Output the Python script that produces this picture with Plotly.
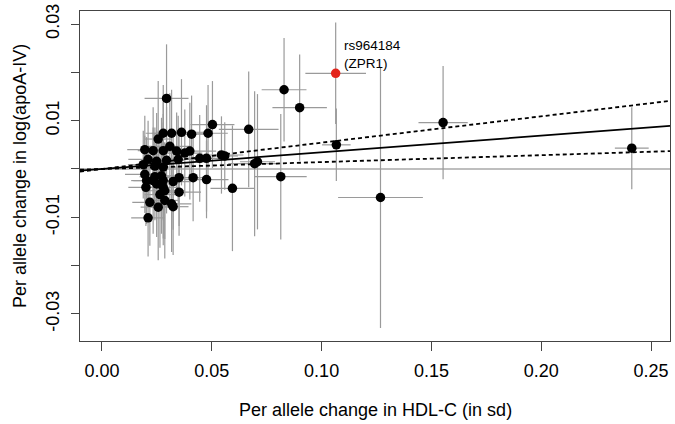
import plotly.graph_objects as go

# ---- data ----
snp_x = [0.1067, 0.0829, 0.0900, 0.0668, 0.0708, 0.0695, 0.0814, 0.0594, 0.1268, 0.1553, 0.2412,
         0.0503, 0.0294, 0.0279, 0.0317, 0.0362, 0.0408, 0.0483, 0.0256, 0.0195, 0.0233,
         0.0279, 0.0309, 0.0340, 0.0377, 0.0400, 0.0445, 0.0476, 0.0544, 0.0559, 0.0210,
         0.0249, 0.0294, 0.0347, 0.0188, 0.0241, 0.0279, 0.0195, 0.0241, 0.0271, 0.0351,
         0.0415, 0.0476, 0.0203, 0.0233, 0.0279, 0.0324, 0.0200, 0.0249, 0.0279, 0.0286,
         0.0351, 0.0264, 0.0218, 0.0286, 0.0317, 0.0256, 0.0324, 0.0210]
snp_y = [0.0050, 0.0164, 0.0127, 0.0082, 0.0015, 0.0011, -0.0016, -0.0040, -0.0059, 0.0096, 0.0043,
         0.0092, 0.0146, 0.0074, 0.0074, 0.0076, 0.0072, 0.0074, 0.0062, 0.0040, 0.0038,
         0.0038, 0.0047, 0.0037, 0.0033, 0.0037, 0.0022, 0.0022, 0.0029, 0.0027, 0.0020,
         0.0016, 0.0018, 0.0020, 0.0009, 0.0006, 0.0004, -0.0011, -0.0016, -0.0014, -0.0018,
         -0.0018, -0.0022, -0.0024, -0.0024, -0.0024, -0.0026, -0.0038, -0.0031, -0.0038, -0.0045,
         -0.0048, -0.0053, -0.0069, -0.0065, -0.0072, -0.0079, -0.0078, -0.0101]
snp_xerr = [0.0065, 0.0102, 0.0124, 0.0136, 0.0080, 0.0120, 0.0118, 0.0100, 0.0193, 0.0112, 0.0077,
            0.0100, 0.0100, 0.0080, 0.0090, 0.0110, 0.0070, 0.0090, 0.0060, 0.0080, 0.0070,
            0.0090, 0.0100, 0.0060, 0.0080, 0.0120, 0.0070, 0.0090, 0.0100, 0.0060, 0.0090,
            0.0070, 0.0080, 0.0110, 0.0070, 0.0060, 0.0080, 0.0090, 0.0070, 0.0060, 0.0100,
            0.0080, 0.0100, 0.0070, 0.0090, 0.0060, 0.0080, 0.0080, 0.0060, 0.0070, 0.0090,
            0.0100, 0.0070, 0.0080, 0.0060, 0.0090, 0.0080, 0.0070, 0.0077]
snp_yerr = [0.0075, 0.0107, 0.0110, 0.0120, 0.0140, 0.0150, 0.0130, 0.0130, 0.0270, 0.0117, 0.0085,
            0.0090, 0.0112, 0.0100, 0.0090, 0.0110, 0.0080, 0.0100, 0.0120, 0.0070, 0.0090,
            0.0100, 0.0110, 0.0080, 0.0090, 0.0100, 0.0090, 0.0110, 0.0080, 0.0070, 0.0080,
            0.0100, 0.0110, 0.0090, 0.0070, 0.0080, 0.0110, 0.0080, 0.0090, 0.0120, 0.0100,
            0.0090, 0.0080, 0.0090, 0.0110, 0.0120, 0.0100, 0.0080, 0.0110, 0.0120, 0.0100,
            0.0090, 0.0110, 0.0090, 0.0120, 0.0100, 0.0110, 0.0100, 0.0080]

lead_x = [0.1064]
lead_y = [0.0198]
lead_xerr = [0.0138]
lead_yerr = [0.0105]
lead_label = "rs964184<br>(ZPR1)"

slope_est = 0.0345
slope_lo = 0.0143
slope_hi = 0.0545

x_ticks = [0.00, 0.05, 0.10, 0.15, 0.20, 0.25]
x_ticktext = ["0.00", "0.05", "0.10", "0.15", "0.20", "0.25"]
y_ticks = [-0.03, -0.02, -0.01, 0.0, 0.01, 0.02, 0.03]
y_ticktext = ["-0.03", "", "-0.01", "", "0.01", "", "0.03"]

x_range = [-0.0100, 0.2586]
y_range = [-0.0356, 0.0327]

x_title = "Per allele change in HDL-C (in sd)"
y_title = "Per allele change in log(apoA-IV)"

FONT = "Liberation Sans, Arial, Helvetica, sans-serif"
GREY = "#9a9a9a"
FS = 18
MS = 9.5

fig = go.Figure()

# zero reference line
fig.add_trace(go.Scatter(x=x_range, y=[0, 0], mode="lines",
                         line=dict(color="#a8a8a8", width=1.5), hoverinfo="skip"))

# points with error bars
fig.add_trace(go.Scatter(
    x=snp_x, y=snp_y, mode="markers",
    marker=dict(color="black", size=MS, line=dict(width=0)),
    error_x=dict(type="data", array=snp_xerr, color=GREY, thickness=1.2, width=0),
    error_y=dict(type="data", array=snp_yerr, color=GREY, thickness=1.2, width=0),
))
fig.add_trace(go.Scatter(
    x=lead_x, y=lead_y, mode="markers",
    marker=dict(color="#e3241b", size=MS, line=dict(width=0)),
    error_x=dict(type="data", array=lead_xerr, color=GREY, thickness=1.2, width=0),
    error_y=dict(type="data", array=lead_yerr, color=GREY, thickness=1.2, width=0),
))

# regression line and confidence limits (through origin)
fig.add_trace(go.Scatter(x=x_range, y=[v * slope_est for v in x_range], mode="lines",
                         line=dict(color="black", width=1.8), hoverinfo="skip"))
for s in (slope_lo, slope_hi):
    fig.add_trace(go.Scatter(x=x_range, y=[v * s for v in x_range], mode="lines",
                             line=dict(color="black", width=1.8, dash="4px,3px"), hoverinfo="skip"))

fig.add_annotation(x=lead_x[0] + 0.0030, y=0.0276, xref="x", yref="y",
                   text=lead_label, showarrow=False, xanchor="left", yanchor="top", align="left",
                   font=dict(family=FONT, size=13.5, color="black"))

fig.add_annotation(x=0.5, y=0, xref="paper", yref="paper", text=x_title, showarrow=False,
                   xanchor="center", yanchor="middle", yshift=-69,
                   font=dict(family=FONT, size=FS, color="black"))
fig.add_annotation(x=0, y=0.5, xref="paper", yref="paper", text=y_title, showarrow=False,
                   xanchor="center", yanchor="middle", xshift=-60, textangle=-90,
                   font=dict(family=FONT, size=FS, color="black"))

fig.update_layout(
    width=675, height=424, autosize=False,
    margin=dict(l=80, r=4, t=6, b=83),
    paper_bgcolor="white", plot_bgcolor="white",
    showlegend=False,
    font=dict(family=FONT, size=FS, color="black"),
    xaxis=dict(range=x_range, tickvals=x_ticks, ticktext=x_ticktext, showgrid=False, zeroline=False,
               showline=True, mirror=True, linecolor="#444", linewidth=1,
               ticks="outside", ticklen=9, tickcolor="#444", tickwidth=1, ticklabelstandoff=4,
               ticklabeloverflow="allow",
               tickfont=dict(family=FONT, size=FS, color="black")),
    yaxis=dict(range=y_range, tickvals=y_ticks, ticktext=y_ticktext, showgrid=False, zeroline=False,
               showline=True, mirror=True, linecolor="#444", linewidth=1,
               ticks="outside", ticklen=8, tickcolor="#444", tickwidth=1, tickangle=-90,
               ticklabelstandoff=5, ticklabeloverflow="allow",
               tickfont=dict(family=FONT, size=FS, color="black")),
)

fig.write_html("out.html", config={"displayModeBar": False},
               post_script="document.body.style.margin='0';document.body.style.padding='0';document.body.style.overflow='hidden';")
